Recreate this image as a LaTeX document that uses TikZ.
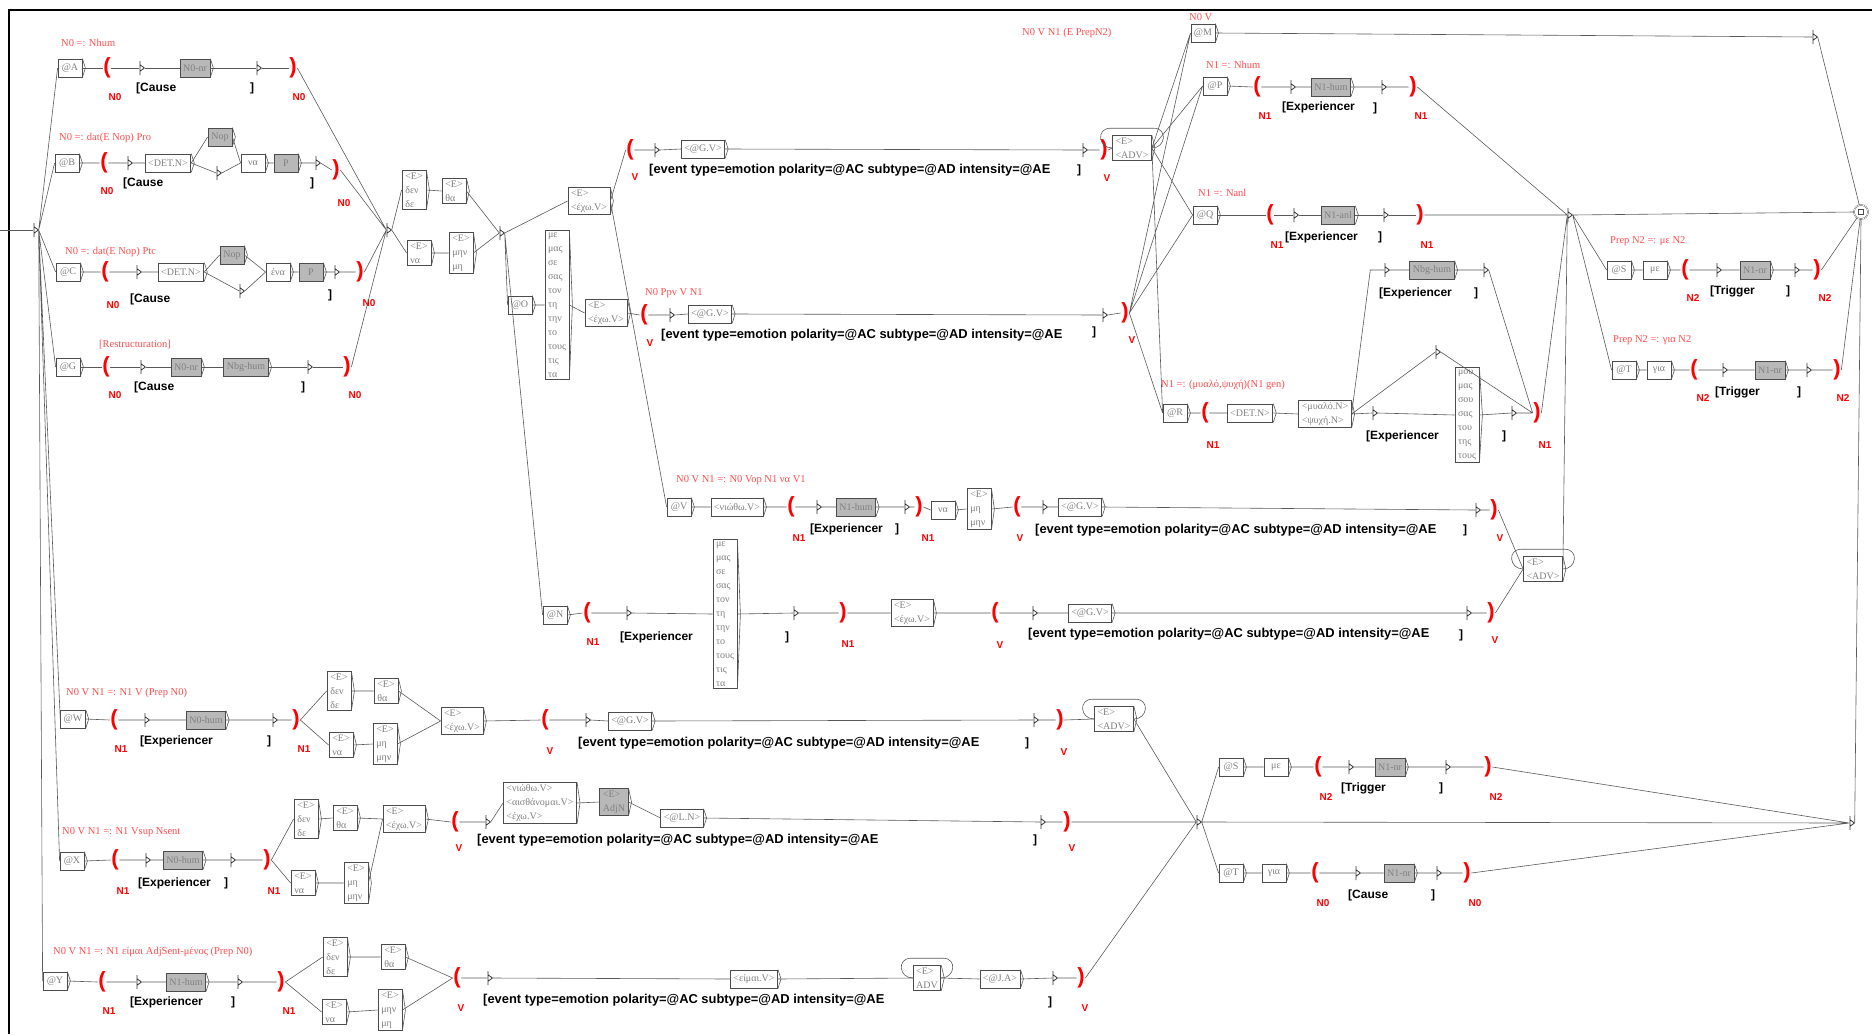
\documentclass[tikz,border=0pt]{standalone}
\usepackage{fontspec}
\setmainfont{Liberation Serif}
\setsansfont{Liberation Sans}
\usepackage{tikz}
\newcommand{\evtout}{\fontsize{12.9}{13}\selectfont [event type=emotion polarity=@AC subtype=@AD intensity=@AE}
\tikzset{
  ln/.style={draw=black!65, line width=0.6pt},
  box/.style={draw=black!70, line width=0.8pt, fill=white, inner xsep=3pt, inner ysep=2pt,
    minimum width=24pt, minimum height=18pt, align=left, text=black!50,
    font=\fontsize{10}{14}\selectfont,
    append after command={\pgfextra{\let\bxnode\tikzlastnode}
      (\bxnode.north east) edge[ln] ([xshift=3pt]\bxnode.east)
      ([xshift=3pt]\bxnode.east) edge[ln] (\bxnode.south east)}},
  gbox/.style={box, fill=black!28},
  emp/.style={inner sep=0pt, minimum width=5pt, minimum height=14pt,
    path picture={\draw[black!80, line width=0.8pt]
      ([xshift=0.5pt]path picture bounding box.north west) -- ([xshift=0.5pt]path picture bounding box.south west)
      ([yshift=-3.5pt]path picture bounding box.north west) -- (path picture bounding box.east)
      -- ([yshift=3.5pt]path picture bounding box.south west);}},
  lpar/.style={text=red, inner sep=0.5pt, font=\sffamily\bfseries\fontsize{22}{22}\selectfont},
  tag/.style={text=red, inner sep=0.5pt, font=\sffamily\bfseries\fontsize{10}{10}\selectfont},
  outtxt/.style={anchor=west, inner sep=0pt, font=\sffamily\bfseries\fontsize{12}{12}\selectfont},
  cmt/.style={anchor=west, inner sep=0pt, text=red!70, font=\fontsize{10.5}{11}\selectfont},
  fin/.style={circle, draw=black!70, double, minimum size=14pt, inner sep=0pt,
    path picture={\draw[black!70, line width=0.6pt]
      ([xshift=-2.5pt,yshift=-2.5pt]path picture bounding box.center) rectangle
      ([xshift=2.5pt,yshift=2.5pt]path picture bounding box.center);}}
}
\begin{document}
\begin{tikzpicture}[x=1pt, y=-1pt]
  \useasboundingbox (0,0) rectangle (1872,1034);
  \draw[line width=2pt] (9,1034) -- (9,10) -- (1872,10);
  \coordinate (st) at (0,230);
  \node[emp] (i0) at (36,230) {};
  \draw[ln] (st) -- (i0.west);

  % N0 slots
  \node[cmt] (cA) at (61,43) {N0 =: Nhum};
  \node[box] (A) at (70,68) {@A};
  \node[lpar] (lA) at (107,68) {(};
  \node[tag] (tA1) at (115,97) {N0};
  \node[emp] (eA1) at (142,68) {};
  \node[outtxt] (oA1) at (136,88) {[Cause};
  \node[gbox] (nA) at (195,68) {N0-nr};
  \node[emp] (eA2) at (259,68) {};
  \node[outtxt] (oA2) at (250,88) {]};
  \node[lpar] (rA) at (293,68) {)};
  \node[tag] (tA2) at (299,97) {N0};
  \draw[ln] (A.east) -- (lA.west) (lA.east) -- (eA1.west) (eA1.east) -- (nA.west)
    (nA.east) -- (eA2.west) (eA2.east) -- (rA.west);

  \node[cmt] (cB) at (59,138) {N0 =: dat(E Nop) Pro};
  \node[box] (B) at (67,163) {@B};
  \node[lpar] (lB) at (104,163) {(};
  \node[tag] (tB1) at (107,191) {N0};
  \node[emp] (eB1) at (130,163) {};
  \node[outtxt] (oB1) at (123,183) {[Cause};
  \node[box] (dB) at (168,163) {<DET.N>};
  \node[gbox] (nB) at (220,137) {Nop};
  \node[emp] (eB2) at (219,173) {};
  \node[box] (vB) at (253,163) {να};
  \node[gbox] (pB) at (286,163) {P};
  \node[emp] (eB3) at (318,163) {};
  \node[outtxt] (oB3) at (310,183) {]};
  \node[lpar] (rB) at (336,170) {)};
  \node[tag] (tB2) at (344,203) {N0};
  \draw[ln] (B.east) -- (lB.west) (lB.east) -- (eB1.west) (eB1.east) -- (dB.west)
    (dB.east) -- (nB.west) (dB.east) -- (eB2.west) (nB.east) -- (vB.west) (eB2.east) -- (vB.west)
    (vB.east) -- (pB.west) (pB.east) -- (eB3.west) (eB3.east) -- (rB.west);

  \node[cmt] (cC) at (65,252) {N0 =: dat(E Nop) Ptc};
  \node[box] (C) at (68,272) {@C};
  \node[lpar] (lC) at (105,272) {(};
  \node[tag] (tC1) at (113,305) {N0};
  \node[emp] (eC1) at (139,272) {};
  \node[outtxt] (oC1) at (130,299) {[Cause};
  \node[box] (dC) at (181,272) {<DET.N>};
  \node[gbox] (nC) at (232,255) {Nop};
  \node[emp] (eC2) at (242,291) {};
  \node[box] (vC) at (278,272) {ένα};
  \node[gbox] (pC) at (311,272) {P};
  \node[emp] (eC3) at (337,272) {};
  \node[outtxt] (oC3) at (328,295) {]};
  \node[lpar] (rC) at (360,272) {)};
  \node[tag] (tC2) at (369,303) {N0};
  \draw[ln] (C.east) -- (lC.west) (lC.east) -- (eC1.west) (eC1.east) -- (dC.west)
    (dC.east) -- (nC.west) (dC.east) -- (eC2.west) (nC.east) -- (vC.west) (eC2.east) -- (vC.west)
    (vC.east) -- (pC.west) (pC.east) -- (eC3.west) (eC3.east) -- (rC.west);

  \node[cmt] (cG) at (99,345) {[Restructuration]};
  \node[box] (G) at (68,367) {@G};
  \node[lpar] (lG) at (106,367) {(};
  \node[tag] (tG1) at (115,395) {N0};
  \node[emp] (eG1) at (143,367) {};
  \node[outtxt] (oG1) at (134,387) {[Cause};
  \node[gbox] (nG) at (186,367) {N0-nr};
  \node[gbox] (bG) at (246,367) {Nbg-hum};
  \node[emp] (eG2) at (310,367) {};
  \node[outtxt] (oG2) at (301,387) {]};
  \node[lpar] (rG) at (347,367) {)};
  \node[tag] (tG2) at (355,395) {N0};
  \draw[ln] (G.east) -- (lG.west) (lG.east) -- (eG1.west) (eG1.east) -- (nG.west)
    (nG.east) -- (bG.west) (bG.east) -- (eG2.west) (eG2.east) -- (rG.west);

  % negation
  \node[emp] (m1) at (389,230) {};
  \node[box] (d1) at (414,190) {<E>\\δεν\\δε};
  \node[box] (h1) at (454,191) {<E>\\θα};
  \node[box] (n1) at (419,253) {<E>\\να};
  \node[box] (u1) at (461,253) {<E>\\μην\\μη};
  \node[emp] (m2) at (502,233) {};
  \draw[ln] (rA.east) -- (m1.west) (rB.east) -- (m1.west) (rC.east) -- (m1.west) (rG.east) -- (m1.west)
    (m1.east) -- (d1.west) (m1.east) -- (n1.west) (d1.east) -- (h1.west) (n1.east) -- (u1.west)
    (h1.east) -- (m2.west) (u1.east) -- (m2.west);

  \node[box] (ech1) at (589,201) {<E>\\<έχω.V>};
  \node[box] (O) at (520,305) {@O};
  \node[box] (lst1) at (557,305) {με\\μας\\σε\\σας\\τον\\τη\\την\\το\\τους\\τις\\τα};
  \node[box] (ech2) at (606,313) {<E>\\<έχω.V>};

  % V rows
  \node[lpar] (l1) at (630,150) {(};
  \node[tag] (t11) at (635,177) {V};
  \node[emp] (e11) at (657,150) {};
  \node[outtxt] (o11) at (649,170) {\evtout};
  \node[box] (g1) at (703,149) {<@G.V>};
  \node[emp] (e12) at (1085,150) {};
  \node[outtxt] (o12) at (1077,170) {]};
  \node[lpar] (r1) at (1104,150) {)};
  \node[tag] (t12) at (1107,178) {V};
  \node[box] (adv1) at (1132,148) {<E>\\<ADV>};

  \node[cmt] (c2) at (645,293) {N0 Ppv V N1};
  \node[lpar] (l2) at (644,315) {(};
  \node[tag] (t21) at (650,343) {V};
  \node[emp] (e21) at (672,315) {};
  \node[outtxt] (o21) at (661,335) {\evtout};
  \node[box] (g2) at (710,314) {<@G.V>};
  \node[emp] (e22) at (1105,315) {};
  \node[outtxt] (o22) at (1092,332) {]};
  \node[lpar] (r2) at (1125,313) {)};
  \node[tag] (t22) at (1132,340) {V};

  \node[cmt] (cV) at (676,480) {N0 V N1 =: N0 Vop N1 να V1};
  \node[box] (V) at (679,507) {@V};
  \node[box] (fV) at (737,507) {<νιώθω.V>};
  \node[lpar] (lV) at (791,507) {(};
  \node[tag] (tV1) at (799,538) {N1};
  \node[emp] (eV1) at (819,507) {};
  \node[outtxt] (oV1) at (810,529) {[Experiencer};
  \node[gbox] (nV) at (856,507) {N1-hum};
  \node[emp] (eV2) at (907,507) {};
  \node[outtxt] (oV2) at (895,529) {]};
  \node[lpar] (rV) at (919,507) {)};
  \node[tag] (tV2) at (928,538) {N1};
  \node[box] (vV) at (943,510) {να};
  \node[box] (uV) at (979,509) {<E>\\μη\\μην};
  \node[lpar] (lV2) at (1017,507) {(};
  \node[tag] (tV3) at (1020,538) {V};
  \node[emp] (eV3) at (1045,507) {};
  \node[outtxt] (oV3) at (1035,530) {\evtout};
  \node[box] (gV) at (1080,507) {<@G.V>};
  \node[emp] (eV4) at (1478,510) {};
  \node[outtxt] (oV4) at (1463,530) {]};
  \node[lpar] (rV2) at (1494,510) {)};
  \node[tag] (tV4) at (1500,538) {V};

  \node[box] (N) at (555,615) {@N};
  \node[lpar] (lN) at (587,613) {(};
  \node[tag] (tN1) at (593,642) {N1};
  \node[emp] (eN1) at (629,613) {};
  \node[outtxt] (oN1) at (620,637) {[Experiencer};
  \node[box] (lst3) at (725,614) {με\\μας\\σε\\σας\\τον\\τη\\την\\το\\τους\\τις\\τα};
  \node[emp] (eN2) at (796,613) {};
  \node[outtxt] (oN2) at (785,637) {]};
  \node[lpar] (rN) at (843,613) {)};
  \node[tag] (tN2) at (848,644) {N1};
  \node[box] (cN) at (912,613) {<E>\\<έχω.V>};
  \node[lpar] (lN2) at (995,613) {(};
  \node[tag] (tN3) at (1000,645) {V};
  \node[emp] (eN3) at (1035,613) {};
  \node[outtxt] (oN3) at (1028,634) {\evtout};
  \node[box] (gN) at (1090,613) {<@G.V>};
  \node[emp] (eN4) at (1469,613) {};
  \node[outtxt] (oN4) at (1459,635) {]};
  \node[lpar] (rN2) at (1491,613) {)};
  \node[tag] (tN4) at (1495,640) {V};
  \node[box] (adv2) at (1543,569) {<E>\\<ADV>};

  \draw[ln] (m2.east) -- (ech1.west) (m2.east) -- (O.west) (m2.east) -- (N.west)
    (O.east) -- (lst1.west) (lst1.east) -- (ech2.west) (ech2.east) -- (l2.west)
    (ech1.east) -- (l1.west) (ech1.east) -- (V.west);
  \draw[ln] (l1.east) -- (e11.west) (e11.east) -- (g1.west) (g1.east) -- (e12.west)
    (e12.east) -- (r1.west) (r1.east) -- (adv1.west);
  \draw[ln] (l2.east) -- (e21.west) (e21.east) -- (g2.west) (g2.east) -- (e22.west)
    (e22.east) -- (r2.west);
  \draw[ln] (V.east) -- (fV.west) (fV.east) -- (lV.west) (lV.east) -- (eV1.west)
    (eV1.east) -- (nV.west) (nV.east) -- (eV2.west) (eV2.east) -- (rV.west)
    (rV.east) -- (vV.west) (vV.east) -- (uV.west) (uV.east) -- (lV2.west)
    (lV2.east) -- (eV3.west) (eV3.east) -- (gV.west) (gV.east) -- (eV4.west)
    (eV4.east) -- (rV2.west) (rV2.east) -- (adv2.west);
  \draw[ln] (N.east) -- (lN.west) (lN.east) -- (eN1.west) (eN1.east) -- (lst3.west)
    (lst3.east) -- (eN2.west) (eN2.east) -- (rN.west) (rN.east) -- (cN.west)
    (cN.east) -- (lN2.west) (lN2.east) -- (eN3.west) (eN3.east) -- (gN.west)
    (gN.east) -- (eN4.west) (eN4.east) -- (rN2.west) (rN2.east) -- (adv2.west);
  \draw[ln] (adv1.east) to[out=0,in=0,looseness=1.8] ([xshift=2pt,yshift=7pt]adv1.north east)
    -- ([xshift=-2pt,yshift=7pt]adv1.north west) to[out=180,in=180,looseness=1.8] (adv1.west);
  \draw[ln] (adv2.east) to[out=0,in=0,looseness=1.8] ([xshift=2pt,yshift=7pt]adv2.north east)
    -- ([xshift=-2pt,yshift=7pt]adv2.north west) to[out=180,in=180,looseness=1.8] (adv2.west);

  % N1 slots
  \node[cmt] (c0) at (1022,33) {N0 V N1 (E PrepN2)};
  \node[cmt] (cM) at (1189,17) {N0 V};
  \node[box] (M) at (1203,33) {@M};
  \node[emp] (eM) at (1815,37) {};

  \node[cmt] (cP) at (1206,65) {N1 =: Nhum};
  \node[box] (P) at (1215,86) {@P};
  \node[lpar] (lP) at (1257,87) {(};
  \node[tag] (tP1) at (1265,116) {N1};
  \node[emp] (eP1) at (1293,87) {};
  \node[outtxt] (oP1) at (1282,107) {[Experiencer};
  \node[gbox] (nP) at (1331,87) {N1-hum};
  \node[emp] (eP2) at (1384,87) {};
  \node[outtxt] (oP2) at (1373,108) {]};
  \node[lpar] (rP) at (1413,87) {)};
  \node[tag] (tP2) at (1421,116) {N1};

  \node[cmt] (cQ) at (1198,193) {N1 =: Nanl};
  \node[box] (Q) at (1205,215) {@Q};
  \node[lpar] (lQ) at (1270,215) {(};
  \node[tag] (tQ1) at (1277,245) {N1};
  \node[emp] (eQ1) at (1296,215) {};
  \node[outtxt] (oQ1) at (1285,237) {[Experiencer};
  \node[gbox] (nQ) at (1338,215) {N1-anl};
  \node[emp] (eQ2) at (1386,215) {};
  \node[outtxt] (oQ2) at (1378,237) {]};
  \node[lpar] (rQ) at (1420,215) {)};
  \node[tag] (tQ2) at (1427,245) {N1};

  \node[cmt] (cR) at (1161,385) {N1 =: (μυαλό,ψυχή)(N1 gen)};
  \node[box] (R) at (1175,413) {@R};
  \node[lpar] (lR) at (1205,413) {(};
  \node[tag] (tR1) at (1213,445) {N1};
  \node[box] (dR) at (1250,413) {<DET.N>};
  \node[box] (kR) at (1325,414) {<μυαλό.N>\\<ψυχή.N>};
  \node[emp] (eR1) at (1375,413) {};
  \node[outtxt] (oR1) at (1366,436) {[Experiencer};
  \node[box] (lst2) at (1467,415) {μου\\μας\\σου\\σας\\του\\της\\τους};
  \node[emp] (eR2) at (1514,413) {};
  \node[outtxt] (oR2) at (1502,436) {]};
  \node[lpar] (rR) at (1537,413) {)};
  \node[tag] (tR2) at (1545,445) {N1};
  \node[emp] (eR3) at (1438,352) {};
  \node[emp] (eR4) at (1387,270) {};
  \node[gbox] (nR) at (1432,270) {Nbg-hum};
  \node[emp] (eR5) at (1486,270) {};
  \node[outtxt] (oR4) at (1379,293) {[Experiencer};
  \node[outtxt] (oR5) at (1474,293) {]};
  \node[emp] (j3) at (1570,215) {};

  \draw[ln] (adv1.east) -- (M.west) (adv1.east) -- (P.west) (adv1.east) -- (Q.west) (adv1.east) -- (R.west)
    (r2.east) -- (M.west) (r2.east) -- (P.west) (r2.east) -- (Q.west) (r2.east) -- (R.west);
  \draw[ln] (M.east) -- (eM.west);
  \draw[ln] (P.east) -- (lP.west) (lP.east) -- (eP1.west) (eP1.east) -- (nP.west)
    (nP.east) -- (eP2.west) (eP2.east) -- (rP.west);
  \draw[ln] (Q.east) -- (lQ.west) (lQ.east) -- (eQ1.west) (eQ1.east) -- (nQ.west)
    (nQ.east) -- (eQ2.west) (eQ2.east) -- (rQ.west);
  \draw[ln] (R.east) -- (lR.west) (lR.east) -- (dR.west) (dR.east) -- (kR.west)
    (kR.east) -- (eR1.west) (eR1.east) -- (lst2.west) (lst2.east) -- (eR2.west) (eR2.east) -- (rR.west)
    (kR.east) -- (eR3.west) (eR3.east) -- (rR.west)
    (kR.east) -- ([xshift=-14pt]eR4.west) -- (eR4.west) (eR4.east) -- (nR.west) (nR.east) -- (eR5.west)
    (eR5.east) -- (rR.west);
  \draw[ln] (rP.east) -- (j3.west) (rQ.east) -- (j3.west) (rR.east) -- (j3.west) (adv2.east) -- (j3.west);

  % N2 slots
  \node[fin] (fin) at (1861,212) {};
  \node[cmt] (cS1) at (1610,241) {Prep N2 =: με N2};
  \node[box] (S1) at (1619,270) {@S};
  \node[box] (mS1) at (1655,270) {με};
  \node[lpar] (lS1) at (1685,270) {(};
  \node[tag] (tS11) at (1693,298) {N2};
  \node[emp] (eS11) at (1719,270) {};
  \node[outtxt] (oS11) at (1710,291) {[Trigger};
  \node[gbox] (nS1) at (1755,270) {N1-nr};
  \node[emp] (eS12) at (1797,270) {};
  \node[outtxt] (oS12) at (1786,291) {]};
  \node[lpar] (rS1) at (1817,270) {)};
  \node[tag] (tS12) at (1825,298) {N2};

  \node[cmt] (cT1) at (1613,340) {Prep N2 =: για N2};
  \node[box] (T1) at (1624,370) {@T};
  \node[box] (mT1) at (1659,370) {για};
  \node[lpar] (lT1) at (1694,370) {(};
  \node[tag] (tT11) at (1703,398) {N2};
  \node[emp] (eT11) at (1725,370) {};
  \node[outtxt] (oT11) at (1715,392) {[Trigger};
  \node[gbox] (nT1) at (1770,370) {N1-nr};
  \node[emp] (eT12) at (1809,370) {};
  \node[outtxt] (oT12) at (1797,392) {]};
  \node[lpar] (rT1) at (1837,370) {)};
  \node[tag] (tT12) at (1843,398) {N2};

  \draw[ln] (j3.east) -- (S1.west) (j3.east) -- (T1.west) (j3.east) -- (fin.west)
    (S1.east) -- (mS1.west) (mS1.east) -- (lS1.west) (lS1.east) -- (eS11.west) (eS11.east) -- (nS1.west)
    (nS1.east) -- (eS12.west) (eS12.east) -- (rS1.west) (rS1.east) -- (fin)
    (T1.east) -- (mT1.west) (mT1.east) -- (lT1.west) (lT1.east) -- (eT11.west) (eT11.east) -- (nT1.west)
    (nT1.east) -- (eT12.west) (eT12.east) -- (rT1.west) (rT1.east) -- (fin)
    (eM.east) -- (fin);

  % lower part
  \node[cmt] (cW) at (66,693) {N0 V N1 =: N1 V (Prep N0)};
  \node[box] (W) at (73,719) {@W};
  \node[lpar] (lW) at (114,720) {(};
  \node[tag] (tW1) at (121,749) {N1};
  \node[emp] (eW1) at (147,720) {};
  \node[outtxt] (oW1) at (140,741) {[Experiencer};
  \node[gbox] (nW) at (206,720) {N0-hum};
  \node[emp] (eW2) at (275,720) {};
  \node[outtxt] (oW2) at (267,741) {]};
  \node[lpar] (rW) at (296,720) {)};
  \node[tag] (tW2) at (304,749) {N1};
  \node[box] (dW) at (339,691) {<E>\\δεν\\δε};
  \node[box] (hW) at (386,691) {<E>\\θα};
  \node[box] (nW2) at (341,745) {<E>\\να};
  \node[box] (uW) at (385,744) {<E>\\μη\\μην};
  \node[box] (cW2) at (462,721) {<E>\\<έχω.V>};
  \node[lpar] (lW2) at (545,720) {(};
  \node[tag] (tW3) at (550,751) {V};
  \node[emp] (eW3) at (588,720) {};
  \node[outtxt] (oW3) at (578,743) {\evtout};
  \node[box] (gW) at (630,721) {<@G.V>};
  \node[emp] (eW4) at (1036,720) {};
  \node[outtxt] (oW4) at (1025,743) {]};
  \node[lpar] (rW2) at (1060,720) {)};
  \node[tag] (tW4) at (1064,752) {V};
  \node[box] (adv3) at (1114,719) {<E>\\<ADV>};

  \node[cmt] (cX) at (62,832) {N0 V N1 =: N1 Vsup Nsent};
  \node[box] (X) at (72,861) {@X};
  \node[lpar] (lX) at (115,860) {(};
  \node[tag] (tX1) at (123,891) {N1};
  \node[emp] (eX1) at (148,860) {};
  \node[outtxt] (oX1) at (138,883) {[Experiencer};
  \node[gbox] (nX) at (183,860) {N0-hum};
  \node[emp] (eX2) at (233,860) {};
  \node[outtxt] (oX2) at (224,883) {]};
  \node[lpar] (rX) at (267,860) {)};
  \node[tag] (tX2) at (274,891) {N1};
  \node[box] (dX) at (306,819) {<E>\\δεν\\δε};
  \node[box] (hX) at (345,818) {<E>\\θα};
  \node[box] (nX2) at (303,883) {<E>\\να};
  \node[box] (uX) at (356,883) {<E>\\μη\\μην};
  \node[box] (cX2) at (404,819) {<E>\\<έχω.V>};
  \node[lpar] (lX2) at (455,822) {(};
  \node[tag] (tX3) at (459,848) {V};
  \node[emp] (eX3) at (488,822) {};
  \node[outtxt] (oX3) at (477,840) {\evtout};
  \node[box] (vX) at (540,803) {<νιώθω.V>\\<αισθάνομαι.V>\\<έχω.V>};
  \node[gbox] (aX) at (614,802) {<E>\\AdjN};
  \node[box] (LX) at (682,818) {<@L.N>};
  \node[emp] (eX4) at (1043,822) {};
  \node[outtxt] (oX4) at (1033,840) {]};
  \node[lpar] (rX2) at (1067,822) {)};
  \node[tag] (tX4) at (1072,848) {V};

  \node[cmt] (cY) at (53,952) {N0 V N1 =: N1 είμαι AdjSent-μένος (Prep N0)};
  \node[box] (Y) at (55,981) {@Y};
  \node[lpar] (lY) at (102,982) {(};
  \node[tag] (tY1) at (109,1011) {N1};
  \node[emp] (eY1) at (139,982) {};
  \node[outtxt] (oY1) at (130,1002) {[Experiencer};
  \node[gbox] (nY) at (186,982) {N1-hum};
  \node[emp] (eY2) at (240,982) {};
  \node[outtxt] (oY2) at (231,1002) {]};
  \node[lpar] (rY) at (281,982) {)};
  \node[tag] (tY2) at (289,1011) {N1};
  \node[box] (dY) at (335,957) {<E>\\δεν\\δε};
  \node[box] (hY) at (393,957) {<E>\\θα};
  \node[box] (nY2) at (334,1012) {<E>\\να};
  \node[box] (uY) at (390,1010) {<E>\\μην\\μη};
  \node[lpar] (lY2) at (457,978) {(};
  \node[tag] (tY3) at (461,1008) {V};
  \node[emp] (eY3) at (490,978) {};
  \node[outtxt] (oY3) at (483,1000) {\evtout};
  \node[box] (vY) at (754,979) {<είμαι.V>};
  \node[box] (adv4) at (927,978) {<E>\\ADV};
  \node[box] (JY) at (1000,979) {<@J.A>};
  \node[emp] (eY4) at (1055,978) {};
  \node[outtxt] (oY4) at (1048,1002) {]};
  \node[lpar] (rY2) at (1081,978) {)};
  \node[tag] (tY4) at (1085,1008) {V};

  \draw[ln] (i0.east) -- (A.west) (i0.east) -- (B.west) (i0.east) -- (C.west) (i0.east) -- (G.west)
    (i0.east) -- (W.west) (i0.east) -- (X.west) (i0.east) -- (Y.west);
  \draw[ln] (W.east) -- (lW.west) (lW.east) -- (eW1.west) (eW1.east) -- (nW.west)
    (nW.east) -- (eW2.west) (eW2.east) -- (rW.west)
    (rW.east) -- (dW.west) (rW.east) -- (nW2.west) (dW.east) -- (hW.west) (nW2.east) -- (uW.west)
    (hW.east) -- (cW2.west) (uW.east) -- (cW2.west) (cW2.east) -- (lW2.west)
    (lW2.east) -- (eW3.west) (eW3.east) -- (gW.west) (gW.east) -- (eW4.west)
    (eW4.east) -- (rW2.west) (rW2.east) -- (adv3.west);
  \draw[ln] (X.east) -- (lX.west) (lX.east) -- (eX1.west) (eX1.east) -- (nX.west)
    (nX.east) -- (eX2.west) (eX2.east) -- (rX.west)
    (rX.east) -- (dX.west) (rX.east) -- (nX2.west) (dX.east) -- (hX.west) (nX2.east) -- (uX.west)
    (hX.east) -- (cX2.west) (uX.east) -- (cX2.west) (cX2.east) -- (lX2.west)
    (lX2.east) -- (eX3.west) (eX3.east) -- (vX.west) (vX.east) -- (aX.west) (aX.east) -- (LX.west)
    (LX.east) -- (eX4.west) (eX4.east) -- (rX2.west);
  \draw[ln] (Y.east) -- (lY.west) (lY.east) -- (eY1.west) (eY1.east) -- (nY.west)
    (nY.east) -- (eY2.west) (eY2.east) -- (rY.west)
    (rY.east) -- (dY.west) (rY.east) -- (nY2.west) (dY.east) -- (hY.west) (nY2.east) -- (uY.west)
    (hY.east) -- (lY2.west) (uY.east) -- (lY2.west)
    (lY2.east) -- (eY3.west) (eY3.east) -- (vY.west) (vY.east) -- (adv4.west)
    (adv4.east) -- (JY.west) (JY.east) -- (eY4.west) (eY4.east) -- (rY2.west);
  \draw[ln] (adv3.east) to[out=0,in=0,looseness=1.8] ([xshift=2pt,yshift=7pt]adv3.north east)
    -- ([xshift=-2pt,yshift=7pt]adv3.north west) to[out=180,in=180,looseness=1.8] (adv3.west);
  \draw[ln] (adv4.east) to[out=0,in=0,looseness=1.8] ([xshift=2pt,yshift=7pt]adv4.north east)
    -- ([xshift=-2pt,yshift=7pt]adv4.north west) to[out=180,in=180,looseness=1.8] (adv4.west);

  % N2 after the lower rows
  \node[emp] (j4) at (1199,822) {};
  \node[box] (S2) at (1231,767) {@S};
  \node[box] (mS2) at (1276,767) {με};
  \node[lpar] (lS2) at (1318,767) {(};
  \node[tag] (tS21) at (1326,797) {N2};
  \node[emp] (eS21) at (1351,767) {};
  \node[outtxt] (oS21) at (1341,788) {[Trigger};
  \node[gbox] (nS2) at (1390,767) {N1-nr};
  \node[emp] (eS22) at (1448,767) {};
  \node[outtxt] (oS22) at (1439,788) {]};
  \node[lpar] (rS2) at (1488,767) {)};
  \node[tag] (tS22) at (1496,797) {N2};

  \node[box] (T2) at (1231,873) {@T};
  \node[box] (mT2) at (1274,873) {για};
  \node[lpar] (lT2) at (1315,873) {(};
  \node[tag] (tT21) at (1323,903) {N0};
  \node[emp] (eT21) at (1358,873) {};
  \node[outtxt] (oT21) at (1348,895) {[Cause};
  \node[gbox] (nT2) at (1399,873) {N1-nr};
  \node[emp] (eT22) at (1439,873) {};
  \node[outtxt] (oT22) at (1431,895) {]};
  \node[lpar] (rT2) at (1467,873) {)};
  \node[tag] (tT22) at (1475,903) {N0};
  \node[emp] (j5) at (1852,823) {};

  \draw[ln] (adv3.east) -- (j4.west) (rX2.east) -- (j4.west) (rY2.east) -- (j4.west)
    (j4.east) -- (S2.west) (j4.east) -- (T2.west) (j4.east) -- (j5.west)
    (S2.east) -- (mS2.west) (mS2.east) -- (lS2.west) (lS2.east) -- (eS21.west) (eS21.east) -- (nS2.west)
    (nS2.east) -- (eS22.west) (eS22.east) -- (rS2.west) (rS2.east) -- (j5.west)
    (T2.east) -- (mT2.west) (mT2.east) -- (lT2.west) (lT2.east) -- (eT21.west) (eT21.east) -- (nT2.west)
    (nT2.east) -- (eT22.west) (eT22.east) -- (rT2.west) (rT2.east) -- (j5.west)
    (j5.east) -- (fin.south);
\end{tikzpicture}
\end{document}
